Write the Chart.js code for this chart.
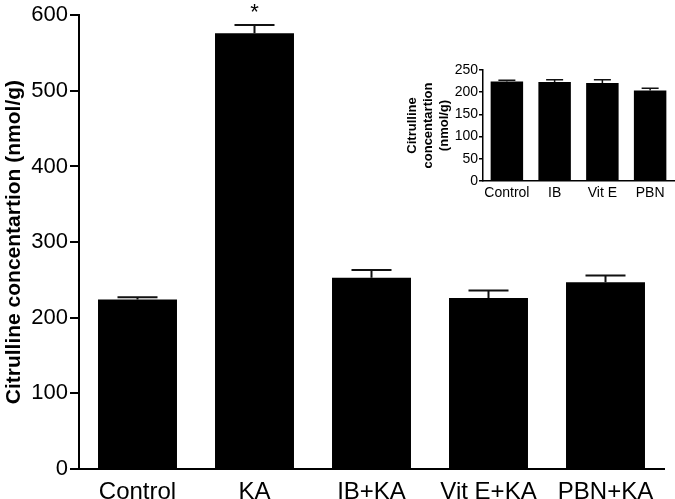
<!DOCTYPE html>
<html><head><meta charset="utf-8">
<script src="https://cdn.jsdelivr.net/npm/chart.js@4.4.1/dist/chart.umd.min.js"></script>
<style>
html,body{margin:0;padding:0;background:#fff;}
#wrap{position:relative;width:675px;height:499px;}
#main{position:absolute;left:0;top:0;}
#inset{position:absolute;left:400px;top:55px;}
</style></head>
<body>
<div id="wrap">
<canvas id="main" width="675" height="499"></canvas>
<canvas id="inset" width="275" height="150"></canvas>
</div>
<script>
const categories = ['Control', 'KA', 'IB+KA', 'Vit E+KA', 'PBN+KA'];
const means = [224, 576, 253, 226, 247];
const sem = [3, 11, 10, 10, 9];
const significant = ['', '*', '', '', ''];
const yTicksMax = 600, yTicksStep = 100;

const insetCategories = ['Control', 'IB', 'Vit E', 'PBN'];
const insetMeans = [224, 223, 221, 204];
const insetSem = [3, 5, 7, 5];
const insetMax = 250, insetStep = 50;

const FONT = "'Liberation Sans', Arial, sans-serif";

function errorBarPlugin(errs, capW, lw, marks) {
  return {
    id: 'errbars',
    afterDatasetsDraw(chart) {
      const ctx = chart.ctx;
      const meta = chart.getDatasetMeta(0);
      const ys = chart.scales.y;
      ctx.save();
      ctx.strokeStyle = '#111';
      ctx.lineWidth = lw;
      meta.data.forEach((bar, i) => {
        const v = chart.data.datasets[0].data[i];
        const yTop = ys.getPixelForValue(v + errs[i]);
        const yBar = ys.getPixelForValue(v);
        ctx.beginPath();
        ctx.moveTo(bar.x, yBar);
        ctx.lineTo(bar.x, yTop);
        ctx.moveTo(bar.x - capW / 2, yTop);
        ctx.lineTo(bar.x + capW / 2, yTop);
        ctx.stroke();
        if (marks && marks[i]) {
          ctx.fillStyle = '#000';
          ctx.font = "22px " + FONT;
          ctx.textAlign = 'center';
          ctx.textBaseline = 'bottom';
          ctx.fillText(marks[i], bar.x, yTop - 1);
        }
      });
      ctx.restore();
    }
  };
}

new Chart(document.getElementById('main'), {
  type: 'bar',
  data: {
    labels: categories,
    datasets: [{ data: means, backgroundColor: '#000', borderWidth: 0,
      barPercentage: 0.675, categoryPercentage: 1.0 }]
  },
  options: {
    responsive: false, animation: false,
    devicePixelRatio: 1,
    layout: { padding: { left: 0, right: 11, top: 11, bottom: 0 } },
    plugins: { legend: { display: false }, tooltip: { enabled: false } },
    scales: {
      x: {
        grid: { display: false },
        border: { display: true, color: '#000', width: 2 },
        ticks: { color: '#000', font: { family: FONT, size: 24, lineHeight: 1.0 }, padding: 3, maxRotation: 0, autoSkip: false },
        afterFit(s) { s.height = 30; }
      },
      y: {
        min: 0, max: yTicksMax,
        grid: { display: true, drawOnChartArea: false, drawTicks: true, tickLength: 9, color: '#000', lineWidth: 2 },
        border: { display: true, color: '#000', width: 2 },
        ticks: { stepSize: yTicksStep, color: '#000', font: { family: FONT, size: 22 }, padding: 2 },
        title: { display: true, text: 'Citrulline concentartion (nmol/g)', color: '#000',
          font: { family: FONT, size: 21, weight: 'bold' }, padding: { top: 2, bottom: 0 } },
        afterFit(s) { s.width = 79; }
      }
    }
  },
  plugins: [errorBarPlugin(sem, 40, 2, significant)]
});

new Chart(document.getElementById('inset'), {
  type: 'bar',
  data: {
    labels: insetCategories,
    datasets: [{ data: insetMeans, backgroundColor: '#000', borderWidth: 0,
      barPercentage: 0.68, categoryPercentage: 1.0 }]
  },
  options: {
    responsive: false, animation: false,
    devicePixelRatio: 1,
    layout: { padding: { left: 0, right: 1, top: 15, bottom: 5 } },
    plugins: { legend: { display: false }, tooltip: { enabled: false } },
    scales: {
      x: {
        grid: { display: false },
        border: { display: true, color: '#000', width: 1.5 },
        ticks: { color: '#000', font: { family: FONT, size: 14, lineHeight: 1.0 }, padding: -3, maxRotation: 0, autoSkip: false },
        afterFit(s) { s.height = 19; }
      },
      y: {
        min: 0, max: insetMax,
        grid: { display: true, drawOnChartArea: false, drawTicks: true, tickLength: 4, color: '#000', lineWidth: 1.5 },
        border: { display: true, color: '#000', width: 1.5 },
        ticks: { stepSize: insetStep, color: '#000', font: { family: FONT, size: 14 }, padding: 1 },
        title: { display: true, text: ['Citrulline', 'concentartion', '(nmol/g)'], color: '#000',
          font: { family: FONT, size: 13, weight: 'bold', lineHeight: 1.2 }, padding: { top: 5, bottom: 0 } },
        afterFit(s) { s.width = 83; }
      }
    }
  },
  plugins: [errorBarPlugin(insetSem, 17, 1.5, null)]
});
</script>
</body></html>
